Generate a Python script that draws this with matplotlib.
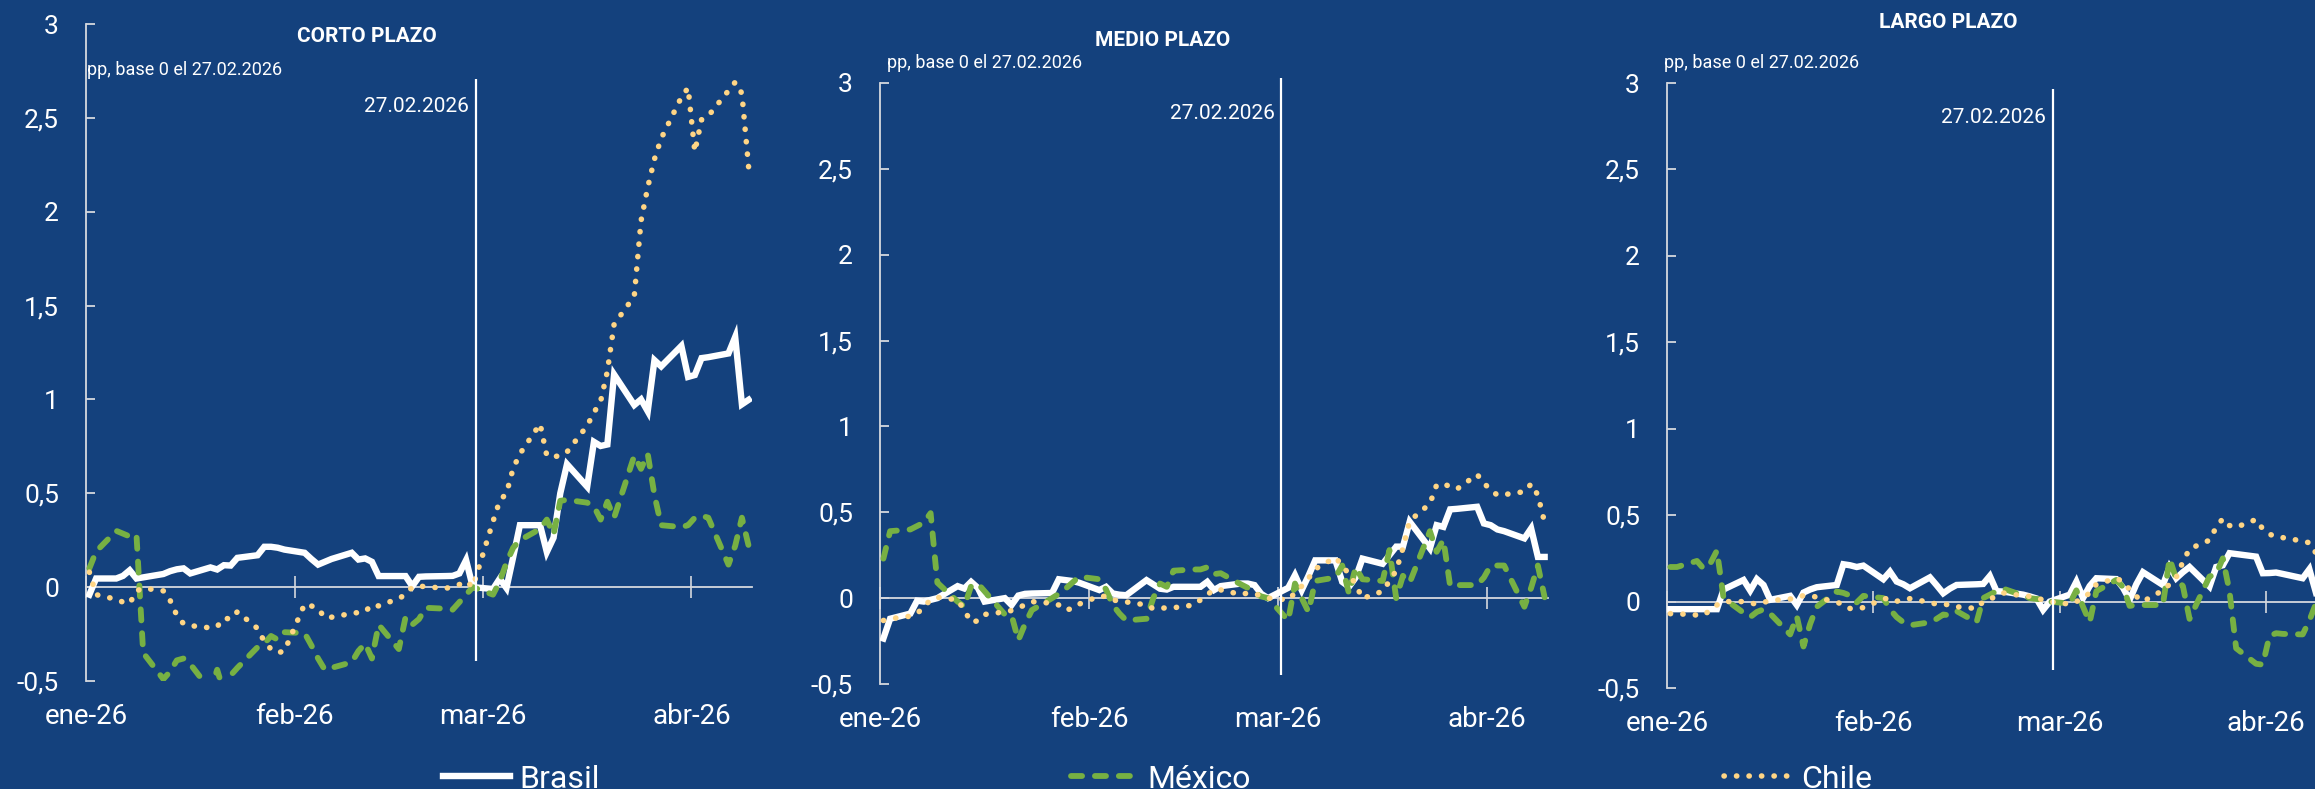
import matplotlib
matplotlib.use("Agg")
import matplotlib.pyplot as plt
import matplotlib.dates as mdates
import pandas as pd
from matplotlib.ticker import FuncFormatter

# ---------------- data ----------------
dates = pd.bdate_range("2026-01-01", "2026-04-09")   # 71 business days
panel_titles = ["CORTO PLAZO", "MEDIO PLAZO", "LARGO PLAZO"]
subtitle = "pp, base 0 el 27.02.2026"
event_label = "27.02.2026"
event_date = "2026-02-27"
series_names = ["Brasil", "México", "Chile"]
month_ticks = ["2026-01-01", "2026-02-01", "2026-03-01", "2026-04-01"]
month_labels = ["ene-26", "feb-26", "mar-26", "abr-26"]
y_ticks = [-0.5, 0, 0.5, 1, 1.5, 2, 2.5, 3]

brasil_cp = [-0.04, 0.046, 0.046, 0.06, 0.09, 0.046, 0.052, 0.07, 0.085, 0.095, 0.10, 0.073, 0.105, 0.094, 0.117, 0.115, 0.156, 0.17, 0.215, 0.215, 0.21, 0.20,
             0.183, 0.15, 0.12, 0.135, 0.15, 0.183, 0.147, 0.153, 0.135, 0.059, 0.059, 0.059, 0.005, 0.055, 0.057, 0.059, 0.06, 0.073, 0.144, 0.0,
             -0.01, 0.045, -0.005, 0.16, 0.33, 0.33, 0.187, 0.263, 0.5, 0.655, 0.535, 0.774, 0.752, 0.76, 1.133, 0.97, 1.0, 0.937, 1.209, 1.176, 1.285, 1.12,
             1.13, 1.22, 1.225, 1.245, 1.333, 0.974, 0.998]
mexico_cp = [0.10, 0.19, 0.30, 0.285, 0.27, 0.28, -0.35, -0.49, -0.45, -0.39, -0.38, -0.41, -0.55, -0.44, -0.56, -0.47, -0.43, -0.32, -0.30, -0.26, -0.28, -0.24,
             -0.245, -0.31, -0.38, -0.44, -0.43, -0.40, -0.34, -0.30, -0.38, -0.20, -0.33, -0.16, -0.20, -0.17, -0.11, -0.115, -0.12, -0.08, -0.04, 0.0,
             -0.04, 0.03, 0.13, 0.21, 0.25, 0.31, 0.36, 0.28, 0.46, 0.465, 0.45, 0.43, 0.36, 0.455, 0.37, 0.70, 0.63, 0.71, 0.49, 0.33, 0.32, 0.33,
             0.37, 0.38, 0.37, 0.12, 0.22, 0.37, 0.22]
chile_cp = [0.08, -0.04, -0.065, -0.08, -0.087, -0.02, -0.005, -0.02, -0.07, -0.15, -0.195, -0.205, -0.217, -0.21, -0.165, -0.17, -0.131, -0.22, -0.29, -0.33, -0.35, -0.34,
            -0.09, -0.10, -0.114, -0.163, -0.16, -0.14, -0.135, -0.13, -0.094, -0.10, -0.06, -0.04, 0.0, 0.005, 0.003, -0.007, 0.005, 0.014, 0.032, 0.0,
            0.35, 0.46, 0.50, 0.633, 0.71, 0.87, 0.70, 0.695, 0.70, 0.72, 0.86, 0.93, 0.99, 1.15, 1.40, 1.55, 1.95, 2.13, 2.28, 2.39, 2.61, 2.66,
            2.32, 2.49, 2.51, 2.645, 2.69, 2.63, 2.235]

brasil_mp = [-0.235, -0.12, -0.09, -0.015, -0.02, -0.01, 0.0, 0.07, 0.056, 0.095, 0.06, -0.02, 0.0, -0.04, 0.015, 0.025, 0.027, 0.03, 0.11, 0.105, 0.10, 0.09,
             0.047, 0.066, 0.027, 0.02, 0.017, 0.105, 0.08, 0.055, 0.05, 0.066, 0.066, 0.066, 0.095, 0.047, 0.07, 0.085, 0.085, 0.076, 0.025, 0.0,
             0.06, 0.134, 0.047, 0.13, 0.22, 0.22, 0.095, 0.066, 0.12, 0.23, 0.2, 0.25, 0.3, 0.3, 0.445, 0.29, 0.425, 0.415, 0.517, 0.52, 0.532, 0.435,
             0.425, 0.40, 0.39, 0.348, 0.406, 0.24, 0.24]
mexico_mp = [0.23, 0.39, 0.40, 0.42, 0.44, 0.495, 0.09, -0.02, -0.05, 0.07, 0.085, 0.04, -0.095, -0.10, -0.245, -0.15, -0.07, 0.0, 0.025, 0.055, 0.09, 0.125,
             0.11, 0.05, -0.04, -0.09, -0.13, -0.12, 0.0, 0.085, 0.066, 0.16, 0.167, 0.167, 0.18, 0.14, 0.145, 0.08, 0.06, 0.03, 0.01, 0.0,
             -0.13, 0.085, 0.0, -0.08, 0.1, 0.12, 0.19, 0.027, 0.18, 0.11, 0.1, 0.28, 0.0, 0.13, 0.09, 0.39, 0.27, 0.34, 0.07, 0.076, 0.076, 0.12,
             0.19, 0.19, 0.19, -0.05, 0.06, 0.19, 0.005]
chile_mp = [-0.13, -0.12, -0.105, -0.09, -0.05, -0.01, 0.005, -0.01, -0.07, -0.14, -0.132, -0.095, -0.08, -0.072, -0.055, -0.04, -0.02, -0.03, -0.04, -0.07, -0.06, -0.035,
            0.012, 0.01, -0.01, -0.018, -0.022, -0.04, -0.062, -0.058, -0.057, -0.056, -0.04, -0.01, 0.02, 0.05, 0.048, 0.021, 0.03, 0.025, 0.014, 0.0,
            -0.01, 0.03, 0.07, 0.115, 0.17, 0.237, 0.19, 0.14, 0.08, -0.002, 0.04, 0.1, 0.16, 0.29, 0.45, 0.55, 0.66, 0.665, 0.65, 0.635, 0.72, 0.67,
            0.63, 0.60, 0.603, 0.62, 0.665, 0.6, 0.44]

brasil_lp = [-0.044, -0.044, -0.044, -0.044, -0.044, -0.044, 0.07, 0.125, 0.064, 0.13, 0.096, 0.01, 0.033, -0.02, 0.052, 0.07, 0.083, 0.096, 0.216, 0.21, 0.2, 0.208,
             0.129, 0.173, 0.116, 0.1, 0.077, 0.14, 0.095, 0.048, 0.075, 0.096, 0.1, 0.102, 0.148, 0.06, 0.058, 0.04, 0.03, 0.018, -0.048, 0.0,
             0.04, 0.115, 0.02, 0.09, 0.135, 0.13, 0.08, 0.01, 0.1, 0.17, 0.096, 0.2, 0.135, 0.17, 0.2, 0.087, 0.2, 0.21, 0.28, 0.275, 0.26, 0.164,
             0.165, 0.168, 0.16, 0.135, 0.187, 0.05, 0.03]
mexico_lp = [0.2, 0.2, 0.235, 0.19, 0.22, 0.295, 0.02, -0.065, -0.09, -0.06, -0.045, -0.07, -0.19, -0.085, -0.26, -0.13, -0.03, 0.058, 0.05, 0.035, -0.005, 0.033,
             0.02, -0.045, -0.09, -0.12, -0.137, -0.12, -0.1, -0.075, -0.08, -0.055, -0.12, 0.02, 0.04, 0.06, 0.075, 0.035, 0.02, 0.015, 0.013, 0.0,
             -0.012, 0.065, -0.03, -0.12, 0.06, 0.125, 0.085, -0.025, -0.02, -0.02, -0.02, 0.25, 0.13, 0.09, -0.1, 0.145, 0.16, 0.25, 0.06, -0.27, -0.36, -0.365,
             -0.2, -0.183, -0.187, -0.19, -0.11, -0.01, 0.03]
chile_lp = [-0.07, -0.07, -0.078, -0.078, -0.05, -0.02, 0.0, 0.0, -0.008, -0.015, -0.005, 0.006, 0.015, 0.021, 0.035, 0.035, 0.025, -0.005, -0.015, -0.04, -0.04, -0.035,
            0.015, 0.02, 0.002, 0.01, 0.017, -0.005, -0.015, -0.016, -0.018, -0.03, -0.04, 0.0, 0.015, 0.03, 0.05, 0.033, 0.03, 0.02, 0.01, 0.0,
            -0.015, 0.0, 0.02, 0.05, 0.1, 0.135, 0.115, 0.07, 0.03, 0.0, 0.065, 0.1, 0.14, 0.23, 0.305, 0.355, 0.43, 0.48, 0.44, 0.43, 0.475, 0.42,
            0.39, 0.375, 0.37, 0.35, 0.34, 0.28, 0.25]

panels_data = [
    (brasil_cp, mexico_cp, chile_cp),
    (brasil_mp, mexico_mp, chile_mp),
    (brasil_lp, mexico_lp, chile_lp),
]

# ---------------- style / layout ----------------
plt.rcParams['font.family'] = ['Roboto', 'DejaVu Sans']
BG = '#14417D'
AXC = '#D5D8DE'
WHITE = '#FFFFFF'
GREEN = '#77B043'
YELLOW = '#FFD585'
W, H = 2315, 789
YMIN, YMAX = -0.5, 3.0

# axes rectangles in pixels: left, right, top(y=3), bottom(y=-0.5)
rects_px = [(86, 752, 24, 681), (880, 1548, 83, 684), (1667, 2326, 83, 688)]
title_px = [(367, 37), (1163, 40), (1948, 23)]
subtitle_px = [(87, 70), (887, 63), (1664, 63)]
event_offset_days = [1.0, 2.5, 1.0]
event_line_span = [(-0.394, 2.707), (-0.448, 3.03), (-0.395, 2.965)]
event_text_y = [2.558, 2.825, 2.80]
legend_px = [(443, 779), (1071, 779), (1724, 779)]

styles = [
    dict(color=WHITE, lw=4.6, ls='-', solid_joinstyle='miter'),
    dict(color=GREEN, lw=4.2, ls=(0, (1.9, 2.2)), dash_capstyle='round'),
    dict(color=YELLOW, lw=4.0, ls=(0, (0.05, 2.2)), dash_capstyle='round'),
]

x = mdates.date2num(pd.to_datetime(dates)) + 0.5
xt = mdates.date2num(pd.to_datetime(month_ticks))
x0 = mdates.date2num(pd.Timestamp("2026-01-01"))
x1 = mdates.date2num(pd.Timestamp("2026-04-10"))
ev = mdates.date2num(pd.Timestamp(event_date))

fig = plt.figure(figsize=(W / 100, H / 100), dpi=100, facecolor=BG)

fmt = FuncFormatter(lambda v, p: ('%g' % v).replace('.', ','))
legend_handles = []

for i, (rect, series) in enumerate(zip(rects_px, panels_data)):
    l, r, t, b = rect
    ax = fig.add_axes([l / W, 1 - b / H, (r - l) / W, (b - t) / H])
    ax.set_facecolor('none')
    ax.set_xlim(x0, x1)
    ax.set_ylim(YMIN, YMAX)

    lines = []
    for vals, name, st in zip(series, series_names, styles):
        ln, = ax.plot(x, vals, label=name, zorder=3, **st)
        lines.append(ln)
    legend_handles.append(lines[i])

    # spines / ticks
    for s in ['top', 'right', 'bottom']:
        ax.spines[s].set_visible(False)
    ax.spines['left'].set_color(AXC)
    ax.spines['left'].set_linewidth(1.3)
    ax.set_yticks(y_ticks)
    ax.yaxis.set_major_formatter(fmt)
    ax.tick_params(axis='y', direction='in', length=6.5, width=1.3, color=AXC,
                   labelcolor=WHITE, labelsize=19, pad=19.5)
    ax.set_xticks(xt)
    ax.set_xticklabels(month_labels)
    ax.tick_params(axis='x', length=0, labelcolor=WHITE, labelsize=20, pad=15.5)

    # zero line with crossing month ticks
    sec = ax.secondary_xaxis((0 - YMIN) / (YMAX - YMIN))
    sec.set_xticks(xt)
    sec.tick_params(axis='x', direction='inout', length=16, width=1.2, color=AXC,
                    labelbottom=False, labeltop=False)
    for s in sec.spines.values():
        s.set_color(AXC)
        s.set_linewidth(1.3)

    # event line and label
    evx = ev + event_offset_days[i]
    lo, hi = event_line_span[i]
    ax.plot([evx, evx], [lo, hi], color=WHITE, lw=1.6, clip_on=False,
            solid_capstyle='butt', zorder=4)
    ax.annotate(event_label, xy=(evx, event_text_y[i]), xytext=(-5, 0),
                textcoords='offset points', ha='right', va='center',
                color=WHITE, fontsize=15)

    # titles
    tx, ty = title_px[i]
    fig.text(tx / W, 1 - ty / H, panel_titles[i], ha='center', va='center',
             color=WHITE, fontsize=15, fontweight='bold')
    sx, sy = subtitle_px[i]
    fig.text(sx / W, 1 - sy / H, subtitle, ha='left', va='center',
             color=WHITE, fontsize=13)

# legend entries (one per series, spread across bottom)
for h, (lx, ly) in zip(legend_handles, legend_px):
    fig.legend(handles=[h], labels=[h.get_label()], loc='center left',
               bbox_to_anchor=(lx / W, 1 - ly / H), frameon=False,
               borderpad=0, borderaxespad=0, handlelength=2.1,
               handletextpad=0.3, fontsize=23, labelcolor=WHITE)

fig.savefig("out.png", dpi=100, facecolor=BG)
